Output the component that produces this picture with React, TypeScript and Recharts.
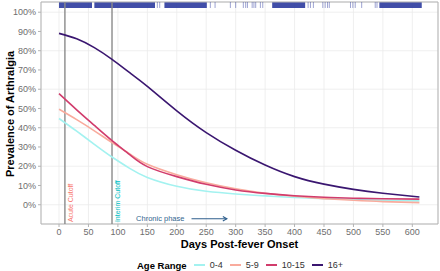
import {
  ComposedChart,
  Line,
  XAxis,
  YAxis,
  CartesianGrid,
  ReferenceLine,
  ReferenceArea,
  ReferenceDot,
} from 'recharts';

const FONT = '"Liberation Sans", Arial, Helvetica, sans-serif';

// model curves (percent)
const DAYS = [0, 30, 60, 90, 120, 150, 200, 250, 300, 350, 400, 450, 500, 550, 612];
const AGE_0_4 = [44.8, 38.2, 31.4, 24.8, 18.9, 14.2, 9.6, 7.0, 5.6, 4.6, 3.8, 3.2, 2.7, 2.3, 2.0];
const AGE_5_9 = [49.6, 44.2, 38.4, 32.3, 26.4, 21.0, 15.6, 11.4, 8.3, 6.0, 4.4, 3.2, 2.3, 1.6, 1.1];
const AGE_10_15 = [57.7, 49.3, 41.2, 33.3, 26.0, 19.8, 14.6, 10.6, 7.7, 5.9, 4.7, 3.9, 3.4, 3.1, 2.9];
const AGE_16_PLUS = [89, 86.2, 81.6, 75.5, 68.6, 61.5, 48.8, 37.5, 28.3, 20.6, 14.6, 10.7, 8.0, 6.0, 4.0];

const SERIES = [
  { key: 'a04', name: '0-4', color: '#a3f2f0', values: AGE_0_4 },
  { key: 'a59', name: '5-9', color: '#f9ab9d', values: AGE_5_9 },
  { key: 'a1015', name: '10-15', color: '#d13c6c', values: AGE_10_15 },
  { key: 'a16', name: '16+', color: '#3a1670', values: AGE_16_PLUS },
];

// observation days shown as a rug along the top
const RUG_BANDS: [number, number][] = [
  [0, 56],
  [60, 163],
  [179, 251],
  [362, 418],
  [544, 616],
];
const RUG_DAYS = [
  167, 171, 257, 265, 291, 300, 313, 317, 320, 328, 331, 334, 342, 346, 423, 427, 432, 448, 452,
  456, 459, 495, 499, 503, 514, 537, 540,
];

const X_TICKS = [0, 50, 100, 150, 200, 250, 300, 350, 400, 450, 500, 550, 600];
const Y_TICKS = [0, 10, 20, 30, 40, 50, 60, 70, 80, 90, 100];

const ACUTE_DAY = 10;
const INTERIM_DAY = 90;

const rows = DAYS.map((day, i) => {
  const row: Record<string, number> = { day };
  SERIES.forEach((s) => {
    row[s.key] = s.values[i];
  });
  return row;
});

/* eslint-disable @typescript-eslint/no-explicit-any */
function XTitle({ viewBox }: any) {
  if (!viewBox) return null;
  return (
    <text
      x={viewBox.x + viewBox.width / 2}
      y={viewBox.y + 24}
      textAnchor="middle"
      fontFamily={FONT}
      fontSize={11}
      fontWeight="bold"
      fill="#000"
    >
      Days Post-fever Onset
    </text>
  );
}

function YTitle() {
  return (
    <text
      x={13.5}
      y={114}
      transform="rotate(-90 13.5 114)"
      textAnchor="middle"
      fontFamily={FONT}
      fontSize={11}
      fontWeight="bold"
      fill="#000"
    >
      Prevalence of Arthralgia
    </text>
  );
}

function cutoffLabel(text: string, color: string) {
  return (p: any) => {
    const x = p.cx + 8;
    const y = p.cy;
    return (
      <text
        x={x}
        y={y}
        transform={`rotate(-90 ${x} ${y})`}
        fontFamily={FONT}
        fontSize={7}
        fill={color}
      >
        {text}
      </text>
    );
  };
}

function ChronicText(p: any) {
  return (
    <text x={p.cx} y={p.cy + 2.5} textAnchor="end" fontFamily={FONT} fontSize={7.5} fill="#33658f">
      Chronic phase
    </text>
  );
}

function Arrow(p: any) {
  const { x1, y1, x2, y2 } = p;
  return (
    <g stroke="#2e5e8c" strokeWidth={1.1} fill="none">
      <line x1={x1} y1={y1} x2={x2} y2={y2} />
      <polyline points={`${x2 - 4},${y2 - 2.2} ${x2},${y2} ${x2 - 4},${y2 + 2.2}`} />
    </g>
  );
}
/* eslint-enable @typescript-eslint/no-explicit-any */

function LegendKey({ color, label }: { color: string; label: string }) {
  return (
    <div style={{ display: 'flex', alignItems: 'center', marginRight: 7 }}>
      <div style={{ width: 11, height: 2, background: color, marginRight: 5 }} />
      <span>{label}</span>
    </div>
  );
}

export default function App() {
  const tick = { fill: '#6e6e6e', fontSize: 9, fontFamily: FONT };
  return (
    <div style={{ position: 'absolute', left: 0, top: 0, width: 440, height: 271, background: '#fff' }}>
      <ComposedChart
        width={440}
        height={271}
        data={rows}
        margin={{ top: 2, right: 2, left: 0, bottom: 0 }}
      >
        <CartesianGrid stroke="#ebebeb" strokeWidth={0.8} />
        <XAxis
          type="number"
          dataKey="day"
          domain={[-30.6, 643.6]}
          allowDataOverflow
          ticks={X_TICKS}
          tick={tick}
          tickSize={3}
          tickMargin={2}
          tickLine={{ stroke: '#b3b3b3' }}
          axisLine={false}
          height={47}
          label={<XTitle />}
        />
        <YAxis
          type="number"
          domain={[-10, 105.3]}
          allowDataOverflow
          ticks={Y_TICKS}
          tickFormatter={(v: number) => `${v}%`}
          tick={tick}
          tickSize={3}
          tickMargin={2}
          tickLine={{ stroke: '#b3b3b3' }}
          axisLine={false}
          width={41}
          label={<YTitle />}
        />

        {RUG_BANDS.map(([a, b], i) => (
          <ReferenceArea
            key={`band-${i}`}
            x1={a}
            x2={b}
            y1={102.2}
            y2={105.3}
            fill="#27369c"
            fillOpacity={0.88}
            stroke="none"
          />
        ))}
        {RUG_DAYS.map((d, i) => (
          <ReferenceLine
            key={`rug-${i}`}
            segment={[
              { x: d, y: 102.2 },
              { x: d, y: 105.3 },
            ]}
            stroke="#27369c"
            strokeOpacity={0.45}
            strokeWidth={1}
          />
        ))}

        <ReferenceLine x={ACUTE_DAY} stroke="#8a8a8a" strokeWidth={1.4} />
        <ReferenceLine x={INTERIM_DAY} stroke="#8a8a8a" strokeWidth={1.4} />

        {SERIES.map((s) => (
          <Line
            key={s.key}
            type="natural"
            dataKey={s.key}
            name={s.name}
            stroke={s.color}
            strokeWidth={1.6}
            dot={false}
            activeDot={false}
            isAnimationActive={false}
          />
        ))}

        <ReferenceDot x={ACUTE_DAY} y={-9} r={0} shape={cutoffLabel('Acute Cutoff', '#f8766d')} />
        <ReferenceDot x={INTERIM_DAY} y={-9} r={0} shape={cutoffLabel('Interim Cutoff', '#00bfc4')} />
        <ReferenceDot x={213} y={-7.3} r={0} shape={ChronicText} />
        <ReferenceLine
          segment={[
            { x: 225, y: -7.3 },
            { x: 285, y: -7.3 },
          ]}
          shape={Arrow}
        />

        <ReferenceArea
          x1={-30.6}
          x2={643.6}
          y1={-10}
          y2={105.3}
          fill="none"
          stroke="#b3b3b3"
          strokeWidth={1}
        />
      </ComposedChart>

      <div
        style={{
          position: 'absolute',
          left: 137,
          top: 258,
          height: 14,
          display: 'flex',
          alignItems: 'center',
          fontFamily: FONT,
          fontSize: 9,
          color: '#333',
        }}
      >
        <span style={{ fontWeight: 'bold', fontSize: 9.5, color: '#000', marginRight: 7 }}>Age Range</span>
        {SERIES.map((s) => (
          <LegendKey key={s.key} color={s.color} label={s.name} />
        ))}
      </div>
    </div>
  );
}
